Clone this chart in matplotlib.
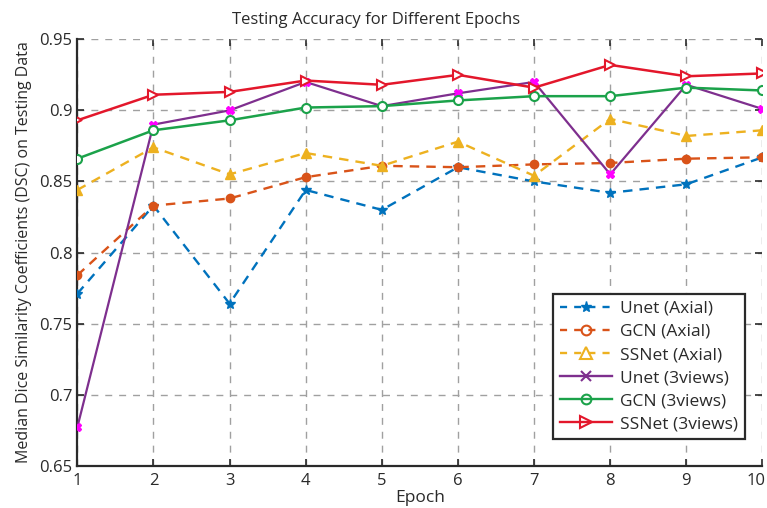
import matplotlib
matplotlib.use("Agg")
import matplotlib.pyplot as plt
from matplotlib.lines import Line2D
import matplotlib.transforms as mtransforms

plt.rcParams['font.family'] = ['Open Sans', 'DejaVu Sans']

epochs = [1, 2, 3, 4, 5, 6, 7, 8, 9, 10]
unet_axial = [0.771, 0.833, 0.764, 0.844, 0.830, 0.860, 0.850, 0.842, 0.848, 0.867]
gcn_axial = [0.784, 0.833, 0.838, 0.853, 0.861, 0.860, 0.862, 0.863, 0.866, 0.867]
ssnet_axial = [0.844, 0.874, 0.855, 0.870, 0.861, 0.878, 0.854, 0.894, 0.882, 0.886]
unet_3v = [0.677, 0.890, 0.900, 0.920, 0.903, 0.912, 0.920, 0.855, 0.918, 0.901]
gcn_3v = [0.866, 0.886, 0.893, 0.902, 0.903, 0.907, 0.910, 0.910, 0.916, 0.914]
ssnet_3v = [0.893, 0.911, 0.913, 0.921, 0.918, 0.925, 0.916, 0.932, 0.924, 0.926]

labels = ['Unet (Axial)', 'GCN (Axial)', 'SSNet (Axial)',
          'Unet (3views)', 'GCN (3views)', 'SSNet (3views)']
yticks = [0.65, 0.7, 0.75, 0.8, 0.85, 0.9, 0.95]
ytick_labels = ['0.65', '0.7', '0.75', '0.8', '0.85', '0.9', '0.95']

c_blue = '#0072BD'
c_orange = '#D95319'
c_yellow = '#EDB120'
c_purple = '#7E2F8E'
c_green = '#1BA24A'
c_red = '#E3172B'
c_mag = '#FF00FF'
c_text = '#2a2a2a'

fig = plt.figure(figsize=(7.67, 5.08), dpi=100)
ax = fig.add_axes([0.1008, 0.0833, 0.8933, 0.8393])

ax.plot(epochs, unet_axial, '--', color=c_blue, lw=1.7, marker='*', ms=7,
        mfc=c_blue, mec=c_blue, label=labels[0], dashes=(4, 3), zorder=3)
ax.plot(epochs, gcn_axial, '--', color=c_orange, lw=1.7, marker='o', ms=6,
        mfc=c_orange, mec=c_orange, label=labels[1], dashes=(4, 3), zorder=3)
ax.plot(epochs, ssnet_axial, '--', color=c_yellow, lw=1.7, marker='^', ms=7,
        mfc=c_yellow, mec=c_yellow, label=labels[2], dashes=(4, 3), zorder=3)
ax.plot(epochs, unet_3v, '-', color=c_purple, lw=1.6, marker='X', ms=6,
        mfc=c_mag, mec=c_mag, label=labels[3], zorder=4)
ax.plot(epochs, gcn_3v, '-', color=c_green, lw=1.8, marker='o', ms=6.5,
        mfc='white', mec=c_green, mew=1.5, label=labels[4], zorder=5)
ax.plot(epochs, ssnet_3v, '-', color=c_red, lw=1.8, marker='>', ms=7.5,
        mfc='white', mec=c_red, mew=1.5, label=labels[5], zorder=6)

ax.set_xlim(1, 10)
ax.set_ylim(0.65, 0.95)
ax.set_xticks(epochs)
ax.set_yticks(yticks)
ax.set_yticklabels(ytick_labels)
ax.tick_params(direction='in', length=5, width=1.2, labelsize=12, colors=c_text,
               top=True, right=True)
ax.tick_params(axis='x', pad=5)
ax.grid(True, linestyle=(0, (5, 5)), color='#a0a0a0', lw=1.0)
ax.set_axisbelow(True)
for s in ['top', 'right']:
    ax.spines[s].set_visible(False)
for s in ['left', 'bottom']:
    ax.spines[s].set_linewidth(1.6)
    ax.spines[s].set_color(c_text)

last = ax.get_xticklabels()[-1]
last.set_transform(last.get_transform() + mtransforms.ScaledTranslation(-6 / 100, 0, fig.dpi_scale_trans))

ax.set_xlabel('Epoch', fontsize=12.5, labelpad=1, color=c_text)
ax.set_ylabel('Median Dice Similarity Coefficients (DSC) on Testing Data',
              fontsize=11.5, color=c_text, labelpad=5)
fig.text(376 / 767, 1 - 20 / 508, 'Testing Accuracy for Different Epochs',
         ha='center', va='center', fontsize=12, color=c_text)

handles = [
    Line2D([], [], ls='--', color=c_blue, lw=1.7, marker='*', ms=8, dashes=(3, 3)),
    Line2D([], [], ls='--', color=c_orange, lw=1.7, marker='o', ms=7, mfc='none', mew=1.5, dashes=(3, 3)),
    Line2D([], [], ls='--', color=c_yellow, lw=1.7, marker='^', ms=8, mfc='none', mew=1.5, dashes=(3, 3)),
    Line2D([], [], ls='-', color=c_purple, lw=1.7, marker='x', ms=7, mew=1.5),
    Line2D([], [], ls='-', color=c_green, lw=1.7, marker='o', ms=7, mfc='none', mew=1.5),
    Line2D([], [], ls='-', color=c_red, lw=1.7, marker='>', ms=8, mfc='none', mew=1.5),
]
leg = ax.legend(handles, labels, loc='lower left',
                bbox_to_anchor=((552.7 - 77.3) / 685.2, (465.7 - 439.3) / 426.4),
                fontsize=12.5, frameon=True, fancybox=False, edgecolor=c_text,
                framealpha=1, handlelength=3.0, labelspacing=0.4, borderpad=0.4,
                handletextpad=0.5, borderaxespad=0)
leg.get_frame().set_linewidth(1.6)
for t in leg.get_texts():
    t.set_color(c_text)

fig.savefig('out.png', dpi=100)
